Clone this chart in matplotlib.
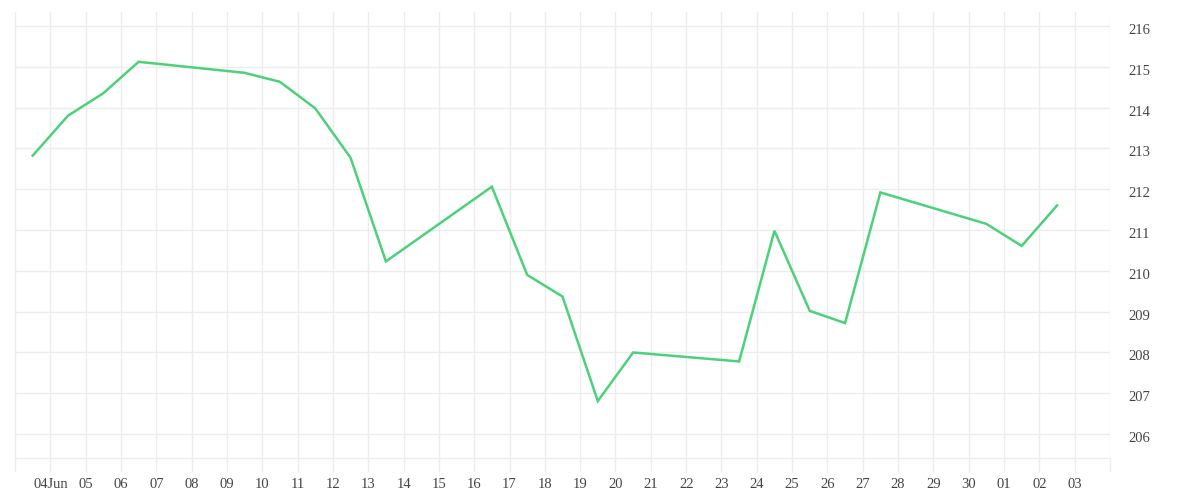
import matplotlib
matplotlib.use("Agg")
import matplotlib.pyplot as plt
import matplotlib.transforms as mtransforms
import pandas as pd

# data (dates at midday)
dates = ["2024-06-03 12:00", "2024-06-04 12:00", "2024-06-05 12:00", "2024-06-06 12:00",
         "2024-06-09 12:00", "2024-06-10 12:00", "2024-06-11 12:00", "2024-06-12 12:00",
         "2024-06-13 12:00", "2024-06-16 12:00", "2024-06-17 12:00", "2024-06-18 12:00",
         "2024-06-19 12:00", "2024-06-20 12:00", "2024-06-23 12:00", "2024-06-24 12:00",
         "2024-06-25 12:00", "2024-06-26 12:00", "2024-06-27 12:00", "2024-06-30 12:00",
         "2024-07-01 12:00", "2024-07-02 12:00"]
values = [212.82, 213.80, 214.35, 215.12,
          214.85, 214.63, 213.98, 212.77,
          210.23, 212.06, 209.90, 209.37,
          206.81, 208.00, 207.78, 210.98,
          209.02, 208.72, 211.92, 211.15,
          210.61, 211.60]
y_ticks = [206, 207, 208, 209, 210, 211, 212, 213, 214, 215, 216]
tick_days = pd.date_range("2024-06-03", "2024-07-04", freq="D")
tick_labels = [""] + ["04Jun"] + [d.strftime("%d") for d in tick_days[2:-1]] + [""]

x = pd.to_datetime(dates)
grid_c = "#ececec"
text_c = "#444444"
fam = ["Liberation Serif", "DejaVu Serif"]

fig = plt.figure(figsize=(12, 5), dpi=100)
ax = fig.add_axes([0.0125, 0.0836, 0.9125, 0.8924])
ax.plot(x, values, color="#4cd17a", lw=1.8, solid_joinstyle="miter", zorder=3)

ax.set_xlim(tick_days[0], tick_days[-1])
ax.set_ylim(205.41, 216.34)
ax.set_xticks(tick_days)
ax.set_xticklabels(tick_labels, fontfamily=fam, fontsize=10.5, color=text_c)
ax.set_yticks(y_ticks)
ax.set_yticklabels([str(v) for v in y_ticks], fontfamily=fam, fontsize=10.5, color=text_c)
ax.yaxis.tick_right()
ax.tick_params(axis="y", length=0, pad=13)
ax.tick_params(axis="x", length=10, width=1, color=grid_c, pad=4)
offset = mtransforms.ScaledTranslation(0, -3 / 100, fig.dpi_scale_trans)
for lbl in ax.get_yticklabels():
    lbl.set_transform(lbl.get_transform() + offset)
ax.grid(True, color=grid_c, lw=1)
ax.set_axisbelow(True)
for s in ["top", "left", "right"]:
    ax.spines[s].set_visible(False)
ax.spines["bottom"].set_color(grid_c)
ax.spines["bottom"].set_linewidth(1)

fig.savefig("out.png", dpi=100, facecolor="white")
